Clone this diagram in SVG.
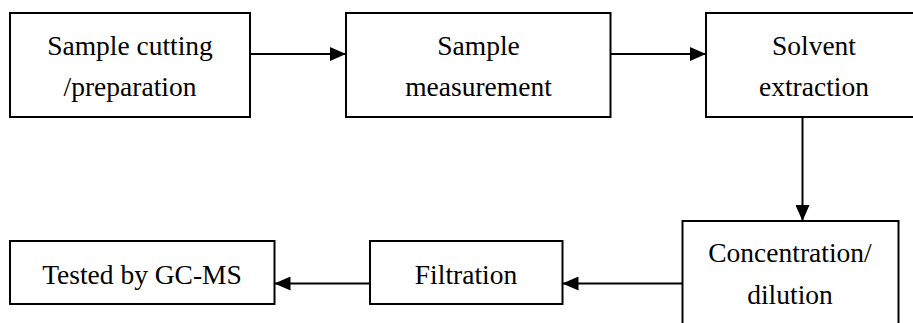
<svg xmlns="http://www.w3.org/2000/svg" width="913" height="323" viewBox="0 0 913 323">
<style>
.box{fill:#fff;stroke:#000;stroke-width:2}
.t{font-size:27.5px;fill:#000;text-anchor:middle}
.c{stroke:#000;stroke-width:2;fill:none}
</style>
<defs>
<marker id="ah" markerWidth="16" markerHeight="14" refX="16" refY="7" orient="auto" markerUnits="userSpaceOnUse">
<path d="M0,0 L16,7 L0,14 Z" fill="#000"/>
</marker>
</defs>
<rect width="913" height="323" fill="#fff"/>
<g font-family="'Liberation Serif', Tinos, 'Times New Roman', 'DejaVu Serif', serif">
<g id="n1"><rect class="box" x="10" y="13" width="240" height="104"/><text class="t" x="130" y="55">Sample cutting</text><text class="t" x="130" y="96">/preparation</text></g>
<g id="n2"><rect class="box" x="346" y="13" width="264.5" height="104"/><text class="t" x="478.5" y="55">Sample</text><text class="t" x="478.5" y="96">measurement</text></g>
<g id="n3"><rect class="box" x="706" y="13" width="216" height="104"/><text class="t" x="814" y="55">Solvent</text><text class="t" x="814" y="96">extraction</text></g>
<g id="n4"><rect class="box" x="682.5" y="221" width="216" height="120"/><text class="t" x="790" y="262">Concentration/</text><text class="t" x="790" y="303.5">dilution</text></g>
<g id="n5"><rect class="box" x="370" y="241" width="192.5" height="63"/><text class="t" x="466" y="283.5">Filtration</text></g>
<g id="n6"><rect class="box" x="10" y="241" width="264.5" height="63"/><text class="t" x="142" y="283.5">Tested by GC-MS</text></g>
</g>
<g id="connectors">
<line class="c" x1="250" y1="54" x2="346" y2="54" marker-end="url(#ah)"/>
<line class="c" x1="610.5" y1="54" x2="706" y2="54" marker-end="url(#ah)"/>
<line class="c" x1="802.5" y1="117" x2="802.5" y2="221" marker-end="url(#ah)"/>
<line class="c" x1="682.5" y1="283.5" x2="562.5" y2="283.5" marker-end="url(#ah)"/>
<line class="c" x1="370" y1="283.5" x2="274.5" y2="283.5" marker-end="url(#ah)"/>
</g>
</svg>
